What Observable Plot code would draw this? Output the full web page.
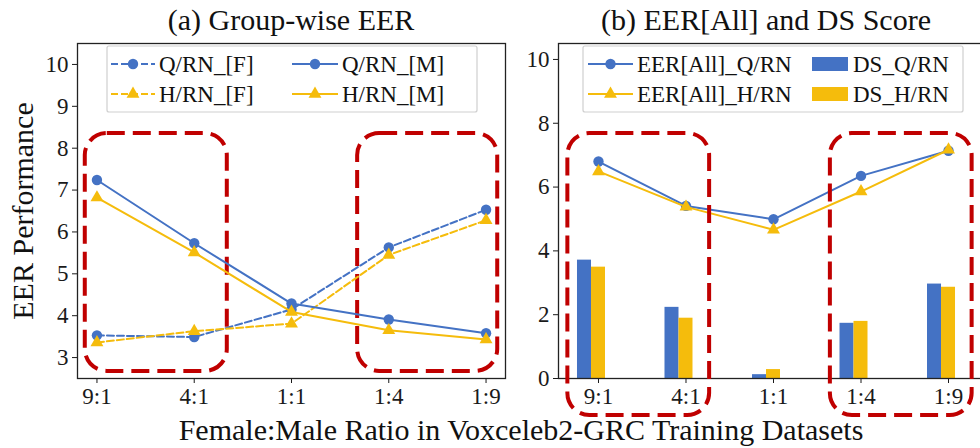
<!DOCTYPE html>
<html>
<head>
<meta charset="utf-8">
<script src="https://cdn.jsdelivr.net/npm/d3@7"></script>
<script src="https://cdn.jsdelivr.net/npm/@observablehq/plot@0.6"></script>
<style>
  html, body { margin: 0; padding: 0; background: white; }
  #fig { position: relative; width: 980px; height: 448px; overflow: hidden; background: white; }
  #fig > svg { position: absolute; top: 0; }
</style>
</head>
<body>
<div id="fig"></div>
<script>
// ---- data ----
const ratios = ["9:1", "4:1", "1:1", "1:4", "1:9"];
// (a) group-wise EER
const qrnF = [3.53, 3.49, 4.15, 5.63, 6.53];
const qrnM = [7.24, 5.73, 4.29, 3.91, 3.58];
const hrnF = [3.36, 3.63, 3.81, 5.45, 6.28];
const hrnM = [6.82, 5.51, 4.09, 3.65, 3.43];
// (b) EER[All] and DS score
const eerAllQ = [6.80, 5.41, 4.99, 6.35, 7.14];
const eerAllH = [6.49, 5.38, 4.66, 5.86, 7.17];
const dsQ = [3.71, 2.23, 0.12, 1.73, 2.96];
const dsH = [3.49, 1.89, 0.28, 1.79, 2.86];
const leftTicks = [3, 4, 5, 6, 7, 8, 9, 10];
const rightTicks = [0, 2, 4, 6, 8, 10];
const highlights = [{from: "9:1", to: "4:1"}, {from: "1:4", to: "1:9"}];

const BLUE = "#4472C4", GOLD = "#F5BC0C", RED = "#C00000";
const FONT = "'Liberation Serif', 'DejaVu Serif', serif";
const idx = r => ratios.indexOf(r);
const series = vals => vals.map((v, i) => ({i, v}));

const fig = document.getElementById("fig");

// ---- (a) ----
const boxesA = highlights.map((h, k) => ({
  x1: idx(h.from) - (k === 0 ? 0.12 : 0.32),
  x2: idx(h.to) + (k === 0 ? 0.34 : 0.12),
  y1: 2.67, y2: 8.35
}));
const plotA = Plot.plot({
  width: 510, height: 448,
  marginLeft: 77, marginRight: 5, marginTop: 43, marginBottom: 70,
  style: {background: "transparent", overflow: "visible", fontFamily: FONT, fontSize: "23px", color: "#1a1a1a"},
  x: {type: "linear", domain: [-0.2, 4.2], ticks: ratios.map((_, i) => i), tickFormat: i => ratios[i], tickSize: 5, tickPadding: 4, label: null},
  y: {domain: [2.5, 10.5], ticks: leftTicks, tickSize: 5, tickPadding: 4, label: null},
  marks: [
    Plot.frame({stroke: "#222", strokeWidth: 1.3}),
    Plot.rect(boxesA, {x1: "x1", x2: "x2", y1: "y1", y2: "y2", rx: 22, fill: "none", stroke: RED, strokeWidth: 4, strokeDasharray: "18,8"}),
    Plot.line(series(qrnF), {x: "i", y: "v", stroke: BLUE, strokeWidth: 2, strokeDasharray: "7,3"}),
    Plot.dot(series(qrnF), {x: "i", y: "v", r: 5.2, fill: BLUE}),
    Plot.line(series(hrnF), {x: "i", y: "v", stroke: GOLD, strokeWidth: 2, strokeDasharray: "7,3"}),
    Plot.dot(series(hrnF), {x: "i", y: "v", r: 4.8, symbol: "triangle", fill: GOLD}),
    Plot.line(series(qrnM), {x: "i", y: "v", stroke: BLUE, strokeWidth: 2}),
    Plot.dot(series(qrnM), {x: "i", y: "v", r: 5.2, fill: BLUE}),
    Plot.line(series(hrnM), {x: "i", y: "v", stroke: GOLD, strokeWidth: 2}),
    Plot.dot(series(hrnM), {x: "i", y: "v", r: 4.8, symbol: "triangle", fill: GOLD})
  ]
});
plotA.style.left = "0px";
fig.appendChild(plotA);

// ---- (b) ----
const boxesB = highlights.map((h, k) => ({
  x1: idx(h.from) - 0.35,
  x2: idx(h.to) + 0.27,
  y1: -1.16, y2: 7.68
}));
const barW = 0.16;
const plotB = Plot.plot({
  width: 500, height: 448,
  marginLeft: 68, marginRight: 2, marginTop: 43, marginBottom: 70,
  style: {background: "transparent", overflow: "visible", fontFamily: FONT, fontSize: "23px", color: "#1a1a1a"},
  x: {type: "linear", domain: [-0.457, 4.457], ticks: ratios.map((_, i) => i), tickFormat: i => ratios[i], tickSize: 5, tickPadding: 4, label: null},
  y: {domain: [0, 10.5], ticks: rightTicks, tickSize: 5, tickPadding: 4, label: null},
  marks: [
    Plot.rectY(series(dsQ), {x1: d => d.i - 1.5 * barW, x2: d => d.i - 0.5 * barW, y: "v", fill: BLUE}),
    Plot.rectY(series(dsH), {x1: d => d.i - 0.5 * barW, x2: d => d.i + 0.5 * barW, y: "v", fill: GOLD}),
    Plot.frame({stroke: "#222", strokeWidth: 1.3}),
    Plot.line(series(eerAllQ), {x: "i", y: "v", stroke: BLUE, strokeWidth: 2}),
    Plot.dot(series(eerAllQ), {x: "i", y: "v", r: 5.2, fill: BLUE}),
    Plot.line(series(eerAllH), {x: "i", y: "v", stroke: GOLD, strokeWidth: 2}),
    Plot.dot(series(eerAllH), {x: "i", y: "v", r: 4.8, symbol: "triangle", fill: GOLD}),
    Plot.rect(boxesB, {x1: "x1", x2: "x2", y1: "y1", y2: "y2", rx: 22, fill: "none", stroke: RED, strokeWidth: 4, strokeDasharray: "18,8"})
  ]
});
plotB.style.left = "490px";
fig.appendChild(plotB);

// ---- overlay: titles, axis labels, legends ----
const ov = d3.select(fig).append("svg")
  .attr("width", 980).attr("height", 448)
  .style("left", "0px").style("pointer-events", "none")
  .attr("font-family", FONT).attr("fill", "#111");

ov.append("text").attr("x", 291).attr("y", 30).attr("text-anchor", "middle").attr("font-size", 30).text("(a) Group-wise EER");
ov.append("text").attr("x", 766).attr("y", 30).attr("text-anchor", "middle").attr("font-size", 30).text("(b) EER[All] and DS Score");
ov.append("text").attr("x", 521).attr("y", 440).attr("text-anchor", "middle").attr("font-size", 30).text("Female:Male Ratio in Voxceleb2-GRC Training Datasets");
ov.append("text").attr("transform", "translate(33,211) rotate(-90)").attr("text-anchor", "middle").attr("font-size", 30).text("EER Performance");

function legendFrame(x, y, w, h) {
  ov.append("rect").attr("x", x).attr("y", y).attr("width", w).attr("height", h).attr("rx", 2)
    .attr("fill", "white").attr("fill-opacity", 0.85).attr("stroke", "#cfcfcf").attr("stroke-width", 1.2);
}
function lineEntry(x1, x2, y, color, dashed, shape, label) {
  ov.append("line").attr("x1", x1).attr("x2", x2).attr("y1", y).attr("y2", y)
    .attr("stroke", color).attr("stroke-width", 2).attr("stroke-dasharray", dashed ? "7,3" : null);
  const cx = (x1 + x2) / 2;
  const sym = shape === "triangle" ? d3.symbol(d3.symbolTriangle, Math.PI * 4.8 * 4.8) : d3.symbol(d3.symbolCircle, Math.PI * 5.2 * 5.2);
  ov.append("path").attr("d", sym()).attr("transform", `translate(${cx},${y})`).attr("fill", color);
  ov.append("text").attr("x", x2 + 4).attr("y", y).attr("dy", "0.33em").attr("font-size", 23).text(label);
}
function patchEntry(x1, x2, y, color, label) {
  ov.append("rect").attr("x", x1).attr("y", y - 7).attr("width", x2 - x1).attr("height", 14).attr("fill", color);
  ov.append("text").attr("x", x2 + 5).attr("y", y).attr("dy", "0.33em").attr("font-size", 23).text(label);
}

const row1 = 64, row2 = 94;
legendFrame(107, 46, 370, 66);
lineEntry(111, 155, row1, BLUE, true, "circle", "Q/RN_[F]");
lineEntry(111, 155, row2, GOLD, true, "triangle", "H/RN_[F]");
lineEntry(292, 338, row1, BLUE, false, "circle", "Q/RN_[M]");
lineEntry(292, 338, row2, GOLD, false, "triangle", "H/RN_[M]");

legendFrame(583, 46, 380, 66);
lineEntry(588, 633, row1, BLUE, false, "circle", "EER[All]_Q/RN");
lineEntry(588, 633, row2, GOLD, false, "triangle", "EER[All]_H/RN");
patchEntry(812, 848, row1, BLUE, "DS_Q/RN");
patchEntry(812, 848, row2, GOLD, "DS_H/RN");
</script>
</body>
</html>
